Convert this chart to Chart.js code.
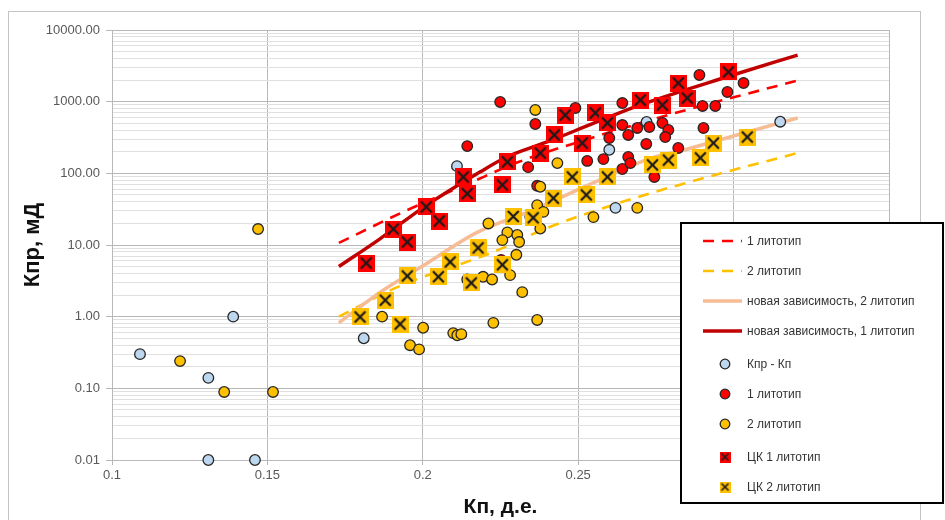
<!DOCTYPE html>
<html>
<head>
<meta charset="utf-8">
<script src="https://cdn.jsdelivr.net/npm/chart.js@4.4.1/dist/chart.umd.min.js"></script>
<style>
  html, body { margin: 0; padding: 0; background: #fff; }
  #wrap { width: 945px; height: 520px; }
</style>
</head>
<body>
<div id="wrap"><canvas id="chart" width="945" height="520"></canvas></div>
<script>
// trend lines
const redDashX = [0.173, 0.193, 0.215, 0.231, 0.253, 0.281, 0.300, 0.321];
const redDashY = [10.7, 28, 73, 145, 300, 690, 1150, 1990];
const yellowDashX = [0.173, 0.192, 0.2227, 0.240, 0.2658, 0.2916, 0.3206];
const yellowDashY = [1.0, 2.6, 8.0, 17.3, 42, 89, 192];
const newDep2X = [0.173, 0.187, 0.199, 0.2175, 0.2356, 0.257, 0.273, 0.284, 0.3045, 0.3206];
const newDep2Y = [0.82, 2.3, 4.8, 15, 31, 81, 160, 212, 378, 592];
const newDep1X = [0.173, 0.186, 0.200, 0.2185, 0.227, 0.240, 0.255, 0.270, 0.299, 0.3206];
const newDep1Y = [5.0, 12, 33, 105, 169, 274, 500, 900, 2300, 4470];

// points
const kprKpX = [0.109, 0.139, 0.131, 0.131, 0.146, 0.181, 0.211, 0.260, 0.262, 0.272, 0.315];
const kprKpY = [0.30, 1.0, 0.14, 0.01, 0.01, 0.50, 126, 213, 33, 520, 525];

const lito1X = [0.2249, 0.2362, 0.2143, 0.2339, 0.2491, 0.2529, 0.2581, 0.2600, 0.2642, 0.2642,
                0.2642, 0.2661, 0.2661, 0.2668, 0.2690, 0.2719, 0.2729, 0.2771, 0.2790, 0.2780,
                0.2822, 0.2745, 0.2903, 0.2900, 0.2941, 0.2890, 0.3032, 0.2980, 0.2368, 0.2252];
const lito1Y = [990, 488, 240, 122, 816, 149, 158, 311, 472, 957,
                115, 343, 169, 139, 430, 257, 444, 504, 403, 321,
                226, 89, 430, 871, 871, 2355, 1820, 1365, 67, 6.2];

const lito2X = [0.1219, 0.1361, 0.1518, 0.147, 0.1869, 0.1959, 0.1988, 0.2001, 0.2098, 0.2111,
                0.2124, 0.2227, 0.2368, 0.2320, 0.2211, 0.2272, 0.2256, 0.2304, 0.2310, 0.2301,
                0.2249, 0.2281, 0.2194, 0.2223, 0.2143, 0.2378, 0.2368, 0.2388, 0.2346, 0.2378,
                0.2362, 0.2433, 0.2549, 0.2690];
const lito2Y = [0.24, 0.089, 0.089, 16.7, 1.0, 0.40, 0.35, 0.70, 0.59, 0.55,
                0.57, 0.82, 0.90, 2.2, 20, 15, 11.7, 13.8, 11, 7.3,
                5.8, 3.8, 3.6, 3.3, 3.3, 65, 36, 29, 24.5, 17,
                766, 139, 24.5, 33];

const ck1X = [0.1818, 0.1905, 0.1950, 0.2011, 0.2053, 0.2130, 0.2143, 0.2256, 0.2272, 0.2378,
              0.2423, 0.2458, 0.2513, 0.2555, 0.2594, 0.2700, 0.2771, 0.2822, 0.2851, 0.2983];
const ck1Y = [5.6, 16.7, 11, 34, 21.6, 89, 52, 69, 144, 192,
              343, 651, 265, 695, 504, 1054, 897, 1820, 1125, 2594];

const ck2X = [0.1798, 0.1879, 0.1927, 0.1950, 0.2050, 0.2088, 0.2178, 0.2156, 0.2291, 0.2256,
              0.2355, 0.2420, 0.2481, 0.2526, 0.2594, 0.2739, 0.2790, 0.2893, 0.2935, 0.3044];
const ck2Y = [0.99, 1.7, 0.79, 3.7, 3.6, 5.8, 9.1, 2.95, 25, 5.3,
              24, 45, 89, 50, 89, 131, 153, 164, 265, 321];

const yDecades = [0.01, 0.1, 1, 10, 100, 1000, 10000];

const pts = (xs, ys) => xs.map((x, i) => ({ x: x, y: ys[i] }));
const isDecade = v => yDecades.some(d => Math.abs(v / d - 1) < 1e-6);

function crossMarker(fill, size) {
    const c = document.createElement('canvas');
    c.width = size; c.height = size;
    const g = c.getContext('2d');
    g.fillStyle = fill;
    g.fillRect(0, 0, size, size);
    g.strokeStyle = '#1a1a1a';
    g.lineWidth = size > 12 ? 2.2 : 1.7;
    const m = size * 0.18;
    g.beginPath();
    g.moveTo(m, m); g.lineTo(size - m, size - m);
    g.moveTo(size - m, m); g.lineTo(m, size - m);
    g.stroke();
    return c;
}

const ck1Marker = crossMarker('#FF0000', 17);
const ck2Marker = crossMarker('#FFC000', 17);
const ck1Small = crossMarker('#FF0000', 11);
const ck2Small = crossMarker('#FFC000', 11);

const lineSet = (label, xs, ys, color, width, dash, order) => ({
    label: label, data: pts(xs, ys), showLine: true, borderColor: color, borderWidth: width,
    borderDash: dash, pointRadius: 0, cubicInterpolationMode: 'monotone', order: order, clip: false
});
const dotSet = (label, xs, ys, fill, order) => ({
    label: label, data: pts(xs, ys), showLine: false, backgroundColor: fill, borderColor: '#262626',
    borderWidth: 1.3, pointRadius: 5.3, order: order, clip: false
});

const frame = {
    id: 'frame',
    beforeDraw(chart) {
        const c = chart.ctx;
        c.save();
        c.fillStyle = '#fff';
        c.fillRect(0, 0, chart.width, chart.height);
        c.strokeStyle = '#c4c4c4';
        c.lineWidth = 1;
        c.strokeRect(8.5, 11.5, 912, 530);
        c.restore();
    }
};

const boxLegend = {
    id: 'boxLegend',
    afterDraw(chart) {
        const c = chart.ctx;
        const rows = [241, 271, 301, 331, 364, 394, 424, 457, 487];
        c.save();
        c.fillStyle = '#fff';
        c.fillRect(681, 223, 262, 280);
        c.strokeStyle = '#000';
        c.lineWidth = 2;
        c.strokeRect(681, 223, 262, 280);
        c.font = '12px "Liberation Sans", Arial, sans-serif';
        c.textBaseline = 'middle';
        chart.data.datasets.forEach((ds, k) => {
            const y = rows[k];
            if (ds.showLine) {
                c.strokeStyle = ds.borderColor;
                c.lineWidth = ds.borderWidth;
                c.setLineDash(ds.borderDash || []);
                c.beginPath();
                c.moveTo(703, y); c.lineTo(742, y);
                c.stroke();
                c.setLineDash([]);
            } else if (ds.legendMarker) {
                const img = ds.legendMarker;
                c.drawImage(img, 725 - img.width / 2, y - img.height / 2);
            } else {
                c.fillStyle = ds.backgroundColor;
                c.strokeStyle = ds.borderColor;
                c.lineWidth = 1.3;
                c.beginPath();
                c.arc(725, y, 4.8, 0, Math.PI * 2);
                c.fill(); c.stroke();
            }
            c.fillStyle = '#333';
            c.fillText(ds.label, 747, y + 1);
        });
        c.restore();
    }
};

Chart.defaults.font.family = '"Liberation Sans", Arial, sans-serif';

new Chart(document.getElementById('chart'), {
    type: 'scatter',
    data: {
        datasets: [
            lineSet('1 литотип', redDashX, redDashY, '#FF0000', 2.6, [11, 8], 9),
            lineSet('2 литотип', yellowDashX, yellowDashY, '#FFC000', 2.6, [11, 8], 8),
            lineSet('новая зависимость, 2 литотип', newDep2X, newDep2Y, '#F5BC95', 3.5, [], 7),
            lineSet('новая зависимость, 1 литотип', newDep1X, newDep1Y, '#C00000', 3.5, [], 6),
            dotSet('Кпр - Кп', kprKpX, kprKpY, '#BDD7EE', 5),
            dotSet('1 литотип', lito1X, lito1Y, '#FF0000', 4),
            dotSet('2 литотип', lito2X, lito2Y, '#FFC000', 3),
            { label: 'ЦК 1 литотип', data: pts(ck1X, ck1Y), pointStyle: ck1Marker, legendMarker: ck1Small,
              pointRadius: 8, order: 2, clip: false },
            { label: 'ЦК 2 литотип', data: pts(ck2X, ck2Y), pointStyle: ck2Marker, legendMarker: ck2Small,
              pointRadius: 8, order: 1, clip: false }
        ]
    },
    options: {
        responsive: false,
        animation: false,
        layout: { padding: { left: 0, right: 56, top: 30, bottom: 0 } },
        plugins: { legend: { display: false }, tooltip: { enabled: false } },
        scales: {
            x: {
                type: 'linear', min: 0.1, max: 0.35,
                afterFit: s => { s.height = 60; },
                ticks: { stepSize: 0.05, color: '#595959', font: { size: 13 }, padding: 3,
                         callback: v => String(+v.toFixed(2)) },
                grid: { color: '#b8b8b8', tickLength: 5 },
                border: { color: '#b8b8b8' },
                title: { display: true, text: 'Кп, д.е.', color: '#111', font: { size: 21, weight: 'bold' },
                         padding: { top: 0, bottom: 0 } }
            },
            y: {
                type: 'logarithmic', min: 0.01, max: 10000,
                afterFit: s => { s.width = 112; },
                afterBuildTicks: s => {
                    s.ticks = s.ticks.filter(t => {
                        const m = t.value / Math.pow(10, Math.floor(Math.log10(t.value) + 1e-9));
                        return Math.abs(m - Math.round(m)) < 1e-6;
                    });
                },
                ticks: { autoSkip: false, color: '#595959', font: { size: 13 }, padding: 6,
                         callback: v => isDecade(v) ? v.toFixed(2) : '' },
                grid: {
                    color: ctx => (ctx.tick && !isDecade(ctx.tick.value)) ? '#e0e0e0' : '#b8b8b8',
                    tickColor: ctx => (ctx.tick && !isDecade(ctx.tick.value)) ? 'rgba(0,0,0,0)' : '#b8b8b8',
                    tickLength: 6
                },
                border: { color: '#b8b8b8' },
                title: { display: true, text: 'Кпр, мД', color: '#111', font: { size: 22, weight: 'bold' },
                         padding: { top: 20, bottom: 0 } }
            }
        }
    },
    plugins: [frame, boxLegend]
});
</script>
</body>
</html>
